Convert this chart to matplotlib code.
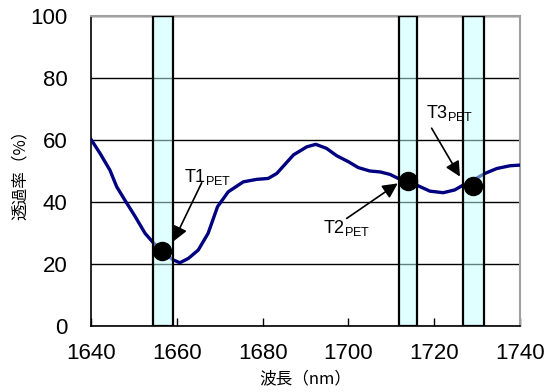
import matplotlib
matplotlib.use("Agg")
import matplotlib.pyplot as plt

plt.rcParams['font.family'] = ['Liberation Sans', 'Noto Sans CJK JP', 'DejaVu Sans']
plt.rcParams['mathtext.fontset'] = 'custom'
plt.rcParams['mathtext.rm'] = 'Liberation Sans'
plt.rcParams['mathtext.it'] = 'Liberation Sans'

# Transmittance spectrum
wavelength = [1640, 1642.1, 1644.4, 1646, 1647.9, 1650.3, 1652.6, 1654.5, 1656.5, 1658,
              1659.2, 1660.7, 1662.7, 1665, 1667.3, 1669.5, 1672, 1675.5, 1678.6, 1681.3,
              1683.3, 1687.2, 1690.3, 1692.4, 1694.9, 1697.3, 1700, 1702.3, 1705, 1707.4,
              1709.7, 1711.6, 1714, 1716.3, 1719, 1722.1, 1724.8, 1726.8, 1729, 1731.8,
              1734.6, 1737.7, 1740]
transmittance = [60.2, 55.7, 50.3, 44.9, 40.6, 35.3, 29.9, 26.9, 24.2, 22.5,
                 21.3, 20.4, 21.8, 24.5, 29.9, 38.5, 43.3, 46.5, 47.3, 47.6,
                 49.2, 55.2, 57.8, 58.6, 57.3, 54.9, 53.0, 51.1, 50.0, 49.7,
                 48.9, 47.6, 46.8, 45.2, 43.5, 43.0, 43.9, 45.5, 47.0, 49.2,
                 50.8, 51.7, 51.9]

# Highlighted bands
band_start = [1654.5, 1711.7, 1726.8]
band_end = [1659.0, 1716.1, 1731.6]

# Marked points
point_labels = ['T1', 'T2', 'T3']
point_x = [1656.5, 1714.0, 1729.1]
point_y = [24.2, 46.8, 45.3]

# Label text anchors and arrow tails
label_x = [1661.7, 1694.1, 1718.2]
label_y = [46.5, 29.9, 67.0]
tail_x = [1665.8, 1699.6, 1719.4]
tail_y = [46.2, 34.7, 63.8]
head_x = [1659.2, 1711.5, 1726.0]
head_y = [27.3, 46.0, 48.2]

x_ticks = [1640, 1660, 1680, 1700, 1720, 1740]
y_ticks = [0, 20, 40, 60, 80, 100]

fig = plt.figure(figsize=(5.51, 3.92), dpi=100)
ax = fig.add_axes([91/551, 66/392, 429/551, 310/392])

ax.plot(wavelength, transmittance, color='#000080', lw=2.4, zorder=3)

for s, e in zip(band_start, band_end):
    ax.axvspan(s, e, ymin=0, ymax=1, facecolor=(0.76, 1.0, 1.0, 0.5),
               edgecolor='black', lw=1.6, zorder=4)

ax.plot(point_x, point_y, 'o', color='black', markersize=13, zorder=6)

for lab, lx, ly, tx, ty, hx, hy in zip(point_labels, label_x, label_y, tail_x, tail_y, head_x, head_y):
    ax.text(lx, ly, lab + r'$_{\mathrm{PET}}$', fontsize=13, ha='left', va='baseline', zorder=7)
    ax.annotate('', xy=(hx, hy), xytext=(tx, ty),
                arrowprops=dict(arrowstyle='-|>,head_length=0.9,head_width=0.45',
                                color='black', lw=1.2, shrinkA=0, shrinkB=0), zorder=7)

ax.set_xlim(1640, 1740)
ax.set_ylim(0, 100)
ax.set_xticks(x_ticks)
ax.set_yticks(y_ticks)
ax.tick_params(axis='x', direction='in', length=6, width=1, labelsize=16, pad=12)
ax.tick_params(axis='y', length=0, labelsize=16, pad=17)
ax.yaxis.grid(True, color='black', lw=1)
ax.set_axisbelow(True)

for side in ['top', 'right']:
    ax.spines[side].set_color('#a0a0a0')
    ax.spines[side].set_linewidth(1.5)
for side in ['left', 'bottom']:
    ax.spines[side].set_color('black')
    ax.spines[side].set_linewidth(1.2)

ax.set_xlabel('波長（nm）', fontsize=12, family=['Noto Sans CJK JP', 'DejaVu Sans'], labelpad=5)
ax.set_ylabel('透過率（%）', fontsize=12, family=['Noto Sans CJK JP', 'DejaVu Sans'], labelpad=1)

fig.savefig('out.png', dpi=100)
